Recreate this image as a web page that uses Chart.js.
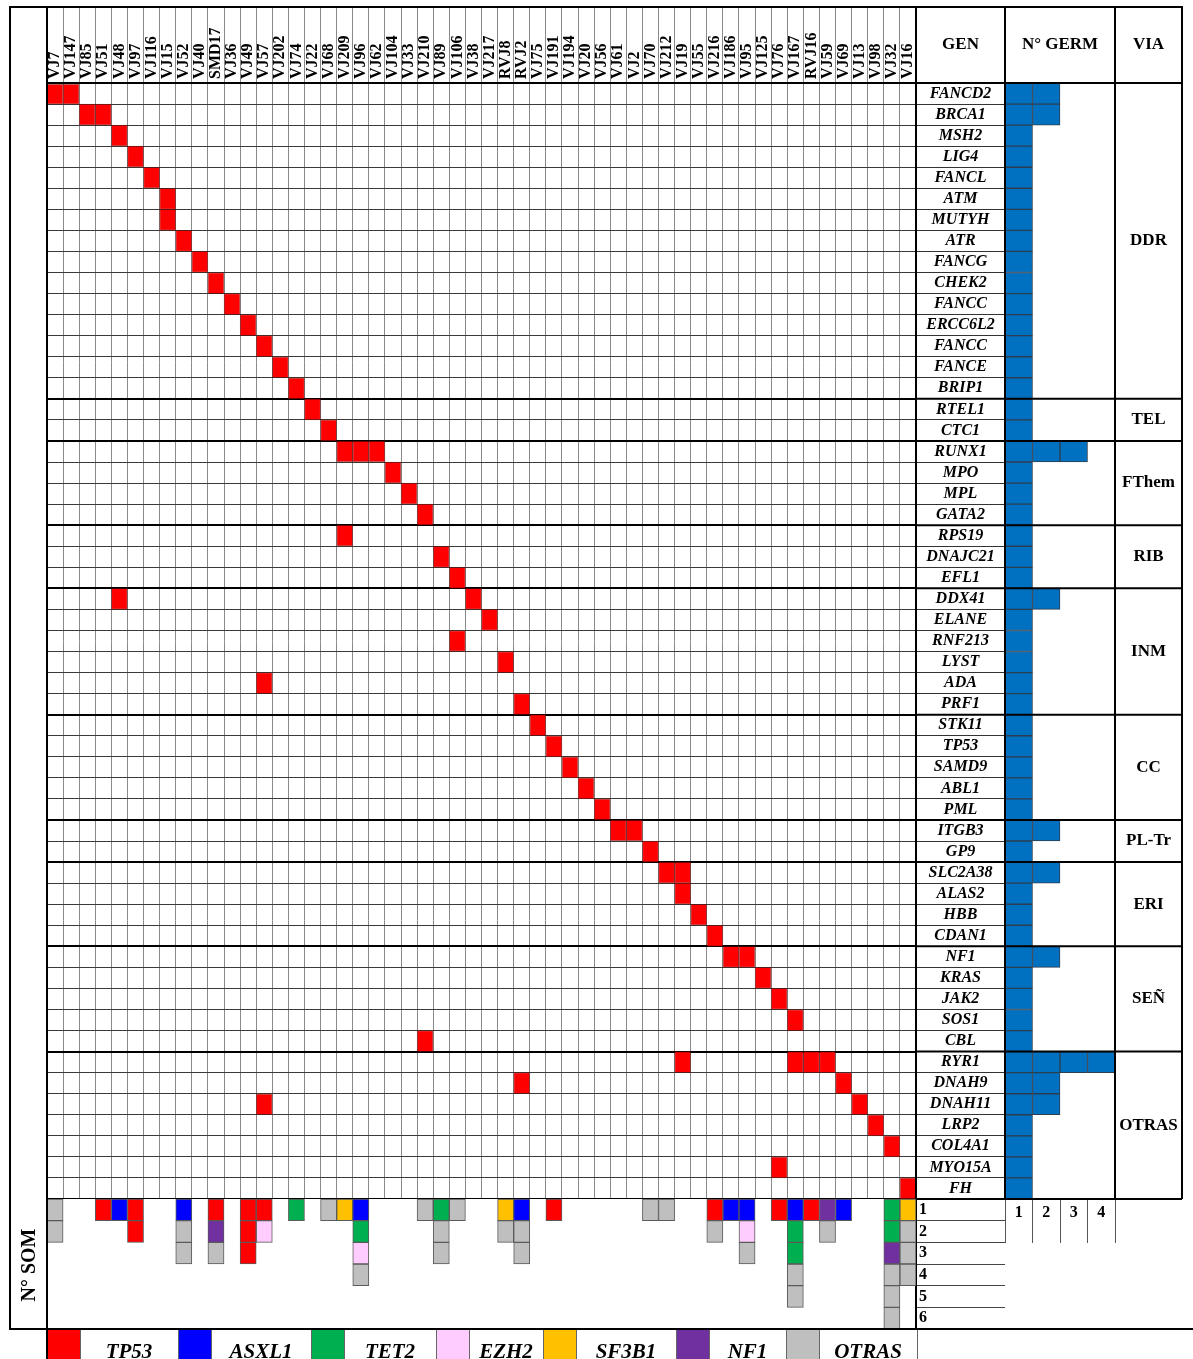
<!DOCTYPE html>
<html>
<head>
<meta charset="utf-8">
<title>Variantes germinales y somáticas por paciente</title>
<script src="https://cdn.jsdelivr.net/npm/chart.js@4.4.1/dist/chart.umd.min.js"></script>
<style>
  html, body { margin: 0; padding: 0; background: #fff; }
  #page { position: relative; width: 1193px; height: 1359px; overflow: hidden;
          font-family: "Liberation Serif", "Times New Roman", serif; color: #000; }
  .abs { position: absolute; }
  .line { position: absolute; background: #000; }
  canvas { display: block; }
</style>
</head>
<body>
<div id="page">
  <div class="abs" style="left:47px;top:7px;width:869px;height:1192px"><canvas id="gridChart"></canvas></div>
  <div class="abs" style="left:10px;top:1199px;width:995px;height:130px"><canvas id="somChart"></canvas></div>
  <div class="abs" style="left:912px;top:7px;width:281px;height:1236px"><canvas id="germChart"></canvas></div>
  <div id="overlay"></div>
</div>
<script>
// ---------- data ----------
const patients = ['VJ7','VJ147','VJ85','VJ51','VJ48','VJ97','VJ116','VJ15','VJ52','VJ40','SMD17','VJ36',
  'VJ49','VJ57','VJ202','VJ74','VJ22','VJ68','VJ209','VJ96','VJ62','VJ104','VJ33','VJ210','VJ89','VJ106',
  'VJ38','VJ217','RVJ8','RVJ2','VJ75','VJ191','VJ194','VJ20','VJ56','VJ61','VJ2','VJ70','VJ212','VJ19',
  'VJ55','VJ216','VJ186','VJ95','VJ125','VJ76','VJ167','RVJ16','VJ59','VJ69','VJ13','VJ98','VJ32','VJ16'];

const genes = ['FANCD2','BRCA1','MSH2','LIG4','FANCL','ATM','MUTYH','ATR','FANCG','CHEK2','FANCC','ERCC6L2',
  'FANCC','FANCE','BRIP1','RTEL1','CTC1','RUNX1','MPO','MPL','GATA2','RPS19','DNAJC21','EFL1','DDX41',
  'ELANE','RNF213','LYST','ADA','PRF1','STK11','TP53','SAMD9','ABL1','PML','ITGB3','GP9','SLC2A38',
  'ALAS2','HBB','CDAN1','NF1','KRAS','JAK2','SOS1','CBL','RYR1','DNAH9','DNAH11','LRP2','COL4A1',
  'MYO15A','FH'];

// patients carrying a germline variant in each gene (same order as genes)
const germlineHits = [
  ['VJ7','VJ147'], ['VJ85','VJ51'], ['VJ48'], ['VJ97'], ['VJ116'], ['VJ15'], ['VJ15'], ['VJ52'],
  ['VJ40'], ['SMD17'], ['VJ36'], ['VJ49'], ['VJ57'], ['VJ202'], ['VJ74'],
  ['VJ22'], ['VJ68'],
  ['VJ209','VJ96','VJ62'], ['VJ104'], ['VJ33'], ['VJ210'],
  ['VJ209'], ['VJ89'], ['VJ106'],
  ['VJ48','VJ38'], ['VJ217'], ['VJ106'], ['RVJ8'], ['VJ57'], ['RVJ2'],
  ['VJ75'], ['VJ191'], ['VJ194'], ['VJ20'], ['VJ56'],
  ['VJ61','VJ2'], ['VJ70'],
  ['VJ212','VJ19'], ['VJ19'], ['VJ55'], ['VJ216'],
  ['VJ186','VJ95'], ['VJ125'], ['VJ76'], ['VJ167'], ['VJ210'],
  ['VJ19','VJ167','RVJ16','VJ59'], ['RVJ2','VJ69'], ['VJ57','VJ13'], ['VJ98'], ['VJ32'], ['VJ76'], ['VJ16']
];

const pathways = ['DDR','TEL','FThem','RIB','INM','CC','PL-Tr','ERI','SEÑ','OTRAS'];
const pathwaySizes = [15, 2, 4, 3, 6, 5, 2, 4, 5, 7];

const somaticTypes = ['TP53','ASXL1','TET2','EZH2','SF3B1','NF1','OTRAS'];
const somaticColors = ['#FF0000','#0000FF','#00B050','#FFCCFF','#FFC000','#7030A0','#BFBFBF'];

// somatic variants per patient, listed from the first to the last stacked cell
const somaticCalls = [
  ['OTRAS','OTRAS'], [], [], ['TP53'], ['ASXL1'], ['TP53','TP53'], [], [],
  ['ASXL1','OTRAS','OTRAS'], [], ['TP53','NF1','OTRAS'], [], ['TP53','TP53','TP53'], ['TP53','EZH2'],
  [], ['TET2'], [], ['OTRAS'], ['SF3B1'], ['ASXL1','TET2','EZH2','OTRAS'], [], [], [], ['OTRAS'],
  ['TET2','OTRAS','OTRAS'], ['OTRAS'], [], [], ['SF3B1','OTRAS'], ['ASXL1','OTRAS','OTRAS'], [], ['TP53'],
  [], [], [], [], [], ['OTRAS'], ['OTRAS'], [], [], ['TP53','OTRAS'], ['ASXL1'], ['ASXL1','EZH2','OTRAS'],
  [], ['TP53'], ['ASXL1','TET2','TET2','OTRAS','OTRAS'], ['TP53'], ['NF1','OTRAS'], ['ASXL1'], [], [],
  ['TET2','TET2','NF1','OTRAS','OTRAS','OTRAS'], ['SF3B1','OTRAS','OTRAS','OTRAS']
];

const germLevels = ['1','2','3','4'];
const somLevels = ['1','2','3','4','5','6'];

// ---------- derived series ----------
const germCounts = germlineHits.map(h => h.length);
const germCells = [];
germlineHits.forEach((list, row) => list.forEach(p => germCells.push({ x: p, y: [row, row + 1] })));

const groupEdges = [0];
pathwaySizes.forEach(n => groupEdges.push(groupEdges[groupEdges.length - 1] + n));
const groupCenters = pathwaySizes.map((n, i) => groupEdges[i] + n / 2);

const somDatasets = somaticTypes.map((t, ti) => {
  const pts = [];
  somaticCalls.forEach((calls, pi) => calls.forEach((c, k) => {
    if (c === t) pts.push({ x: patients[pi], y: [k, k + 1] });
  }));
  return {
    label: t, data: pts, backgroundColor: somaticColors[ti], borderColor: '#5a5a5a',
    borderWidth: 1, borderSkipped: false, grouped: false, categoryPercentage: 1, barPercentage: 1
  };
});

// ---------- shared helpers ----------
const FAMILY = '"Liberation Serif", "Times New Roman", serif';
const measureCtx = document.createElement('canvas').getContext('2d');
function widest(labels, font) {
  measureCtx.font = font;
  return Math.max(...labels.map(l => measureCtx.measureText(l).width));
}
function fixSize(prop, value) {
  return s => { s[prop] = value; s.paddingLeft = s.paddingRight = s.paddingTop = s.paddingBottom = 0; };
}
const base = {
  responsive: true, maintainAspectRatio: false, animation: false, devicePixelRatio: 1, events: [],
  plugins: { legend: { display: false }, tooltip: { enabled: false } }
};

// ---------- germline grid (patients x genes) ----------
const headFont = { family: FAMILY, size: 16, weight: 'bold' };
new Chart(document.getElementById('gridChart'), {
  type: 'bar',
  data: {
    labels: patients,
    datasets: [{
      data: germCells, backgroundColor: '#FF0000', borderColor: 'rgba(110,0,0,0.55)', borderWidth: 1,
      borderSkipped: false, grouped: false, categoryPercentage: 1, barPercentage: 1
    }]
  },
  options: {
    ...base,
    layout: { padding: 0 },
    scales: {
      x: {
        position: 'top', offset: true,
        grid: { offset: true, color: '#8a8a8a', lineWidth: 1, tickLength: 76, tickColor: '#8a8a8a' },
        border: { display: true, color: '#000', width: 2 },
        ticks: { autoSkip: false, minRotation: 90, maxRotation: 90, padding: -72, color: '#000',
                 labelOffset: headFont.size * 1.2, font: headFont },
        afterFit: fixSize('height', 76)
      },
      y: {
        type: 'linear', reverse: true, min: 0, max: genes.length,
        ticks: { display: false, stepSize: 1, maxTicksLimit: 200 },
        grid: {
          drawTicks: false,
          color: c => (c.tick && groupEdges.includes(c.tick.value)) ? '#000' : '#3a3a3a',
          lineWidth: c => (c.tick && groupEdges.includes(c.tick.value)) ? 2 : 1
        },
        border: { display: true, color: '#000', width: 2 },
        afterFit: fixSize('width', 0)
      }
    }
  }
});

// ---------- somatic stacks ----------
const somFont = { family: FAMILY, size: 16, weight: 'bold' };
new Chart(document.getElementById('somChart'), {
  type: 'bar',
  data: { labels: patients, datasets: somDatasets },
  options: {
    ...base,
    layout: { padding: { left: 37, right: 0, top: 0, bottom: 0 } },
    scales: {
      x: {
        offset: true, grid: { display: false, drawTicks: false }, border: { display: false },
        ticks: { display: false }, afterFit: fixSize('height', 0)
      },
      y: {
        type: 'linear', reverse: true, min: 0, max: somLevels.length, offset: false,
        grid: { display: false, drawTicks: false }, border: { display: false },
        ticks: { display: false }, afterFit: fixSize('width', 0)
      },
      ys: {
        type: 'category', axis: 'y', position: 'right', labels: somLevels, offset: true,
        grid: { offset: true, drawOnChartArea: false, tickLength: 89, color: '#444', lineWidth: 1 },
        border: { display: true, color: '#000', width: 2 },
        ticks: { crossAlign: 'near', padding: -86, color: '#000', font: somFont, autoSkip: false },
        afterFit: fixSize('width', 89)
      }
    }
  }
});

// ---------- gene names, germline counts and pathways ----------
const geneFont = { family: FAMILY, size: 16, weight: 'bold', style: 'italic' };
const viaFont = { family: FAMILY, size: 17, weight: 'bold' };
const geneW = widest(genes, 'italic bold 16px ' + FAMILY);
const viaW = widest(pathways, 'bold 17px ' + FAMILY);

const tableLines = {
  id: 'tableLines',
  afterDraw(chart) {
    const { ctx, chartArea: a } = chart;
    const yv = chart.scales.yv;
    const x0 = 4, x3 = yv.right;
    ctx.save();
    ctx.strokeStyle = '#000';
    ctx.lineWidth = 2;
    ctx.beginPath();
    [x0, a.left, a.right, x3].forEach(x => { ctx.moveTo(x, 0); ctx.lineTo(x, a.bottom); });
    groupEdges.forEach(v => { const y = yv.getPixelForValue(v); ctx.moveTo(x0, y); ctx.lineTo(x3, y); });
    ctx.stroke();
    ctx.fillStyle = '#000';
    ctx.font = 'bold 17px ' + FAMILY;
    ctx.textAlign = 'center';
    ctx.textBaseline = 'middle';
    const hy = a.top / 2;
    ctx.fillText('GEN', (x0 + a.left) / 2, hy);
    ctx.fillText('N° GERM', (a.left + a.right) / 2, hy);
    ctx.fillText('VIA', (a.right + x3) / 2, hy);
    ctx.restore();
  }
};

new Chart(document.getElementById('germChart'), {
  type: 'bar',
  data: {
    labels: genes,
    datasets: [1, 2, 3, 4].map(k => ({
      data: germCounts.map(n => (n >= k ? 1 : null)),
      backgroundColor: '#0070C0', borderColor: '#2d3e50', borderWidth: 1, borderSkipped: false,
      categoryPercentage: 1, barPercentage: 1, xAxisID: 'x', yAxisID: 'y'
    }))
  },
  options: {
    ...base,
    indexAxis: 'y',
    layout: { padding: { left: 4, right: 11, top: 76, bottom: 0 } },
    scales: {
      x: {
        type: 'linear', min: 0, max: germLevels.length, stacked: true, offset: false,
        grid: { display: false, drawTicks: false }, border: { display: false },
        ticks: { display: false }, afterFit: fixSize('height', 0)
      },
      x2: {
        type: 'category', axis: 'x', position: 'bottom', labels: germLevels, offset: true,
        grid: { offset: true, drawOnChartArea: false, tickLength: 44, color: '#555', lineWidth: 1 },
        border: { display: false },
        ticks: { padding: -40, color: '#000', font: somFont, autoSkip: false },
        afterFit: fixSize('height', 44)
      },
      y: {
        type: 'category', position: 'left', offset: true, stacked: true,
        grid: { offset: true, drawOnChartArea: false, tickLength: 89, color: '#333', lineWidth: 1 },
        border: { display: false },
        ticks: { autoSkip: false, crossAlign: 'center', padding: -44.5 - geneW / 2, color: '#000', font: geneFont },
        afterFit: fixSize('width', 89)
      },
      yv: {
        type: 'linear', position: 'right', min: 0, max: genes.length, reverse: true, offset: false,
        grid: { display: false, drawTicks: false }, border: { display: false },
        afterBuildTicks: s => { s.ticks = groupCenters.map(v => ({ value: v })); },
        ticks: {
          autoSkip: false, crossAlign: 'center', padding: 33.5 - viaW / 2, color: '#000', font: viaFont,
          callback: v => { const i = groupCenters.indexOf(v); return i >= 0 ? pathways[i] : ''; }
        },
        afterFit: fixSize('width', 67)
      }
    }
  },
  plugins: [tableLines]
});

// ---------- frame, N° SOM title and somatic legend ----------
const overlay = document.getElementById('overlay');
function add(html) { overlay.insertAdjacentHTML('beforeend', html); }
add('<div class="line" style="left:9px;top:6px;width:1174px;height:2px"></div>');
add('<div class="line" style="left:9px;top:6px;width:2px;height:1324px"></div>');
add('<div class="line" style="left:46px;top:6px;width:2px;height:1353px"></div>');
add('<div class="line" style="left:9px;top:1328px;width:1184px;height:2px"></div>');
add('<div class="abs" style="left:-72px;top:1250px;width:200px;height:30px;line-height:30px;text-align:center;' +
    'font-weight:bold;font-size:20px;transform:rotate(-90deg)">N° SOM</div>');

const legendStarts = [47, 178, 311, 436, 543, 676, 786];
const legendEnds = [178, 311, 436, 543, 676, 786, 917];
somaticTypes.forEach((t, i) => {
  const sx = legendStarts[i], ex = legendEnds[i], sw = 33;
  add(`<div class="abs" style="left:${sx + 1}px;top:1330px;width:${sw - 1}px;height:29px;background:${somaticColors[i]}"></div>`);
  add(`<div class="line" style="left:${sx + sw}px;top:1330px;width:1px;height:29px;background:#666"></div>`);
  if (i > 0) add(`<div class="line" style="left:${sx}px;top:1330px;width:1px;height:29px;background:#666"></div>`);
  add(`<div class="abs" style="left:${sx + sw}px;top:1329px;width:${ex - sx - sw}px;height:30px;overflow:hidden;` +
      `text-align:center;line-height:44px;font-weight:bold;font-style:italic;font-size:21px">${t}</div>`);
});
add('<div class="line" style="left:917px;top:1330px;width:1px;height:29px;background:#666"></div>');
</script>
</body>
</html>
